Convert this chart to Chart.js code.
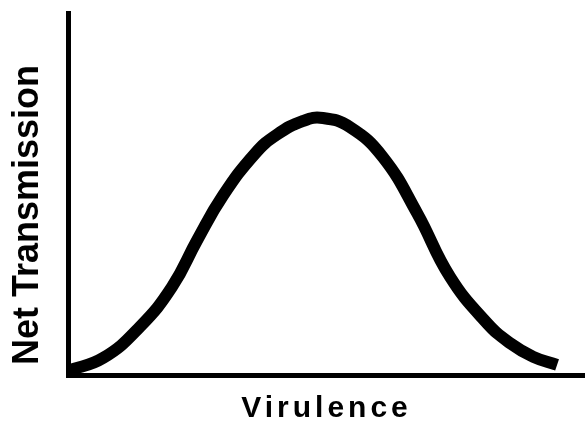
<!DOCTYPE html>
<html>
<head>
<meta charset="utf-8">
<script src="https://cdn.jsdelivr.net/npm/chart.js@4"></script>
<style>
  html, body { margin: 0; padding: 0; background: #ffffff; }
  canvas { display: block; }
</style>
</head>
<body>
<canvas id="chart" width="585" height="433"></canvas>
<script>
// Net transmission as a function of virulence (arbitrary units)
const virulence = [0, 0.68, 1.39, 2.01, 2.50, 3.00, 3.62, 4.04, 4.55, 4.93, 5.45, 6.09, 6.75, 7.39, 8.10, 8.55, 9.00, 9.46];
const netTransmission = [0.12, 0.47, 1.33, 2.43, 3.73, 4.96, 6.12, 6.64, 7.02, 7.10, 6.85, 6.02, 4.48, 2.71, 1.44, 0.88, 0.50, 0.28];

const xTitle = 'Virulence';
const yTitle = ' Net Transmission';

const points = virulence.map((v, i) => ({ x: v, y: netTransmission[i] }));

// Wider letter spacing for the horizontal axis title, which is drawn after the curve
const spacedTitle = {
  id: 'spacedTitle',
  afterDatasetsDraw(chart) { chart.ctx.letterSpacing = '4px'; },
  afterDraw(chart) { chart.ctx.letterSpacing = '0px'; }
};

new Chart(document.getElementById('chart'), {
  type: 'scatter',
  data: {
    datasets: [{
      data: points,
      showLine: true,
      borderColor: '#000000',
      borderWidth: 12,
      tension: 0.45,
      pointRadius: 0,
      borderCapStyle: 'butt',
      clip: false
    }]
  },
  options: {
    responsive: false,
    animation: false,
    devicePixelRatio: 1,
    layout: { padding: { top: 13, right: 0, bottom: 0, left: 0 } },
    plugins: { legend: { display: false }, tooltip: { enabled: false } },
    scales: {
      x: {
        type: 'linear',
        min: 0,
        max: 10,
        grid: { display: false, drawTicks: false, z: 1 },
        border: { display: true, color: '#000000', width: 5, z: 2 },
        ticks: { display: false },
        title: {
          display: true,
          text: xTitle,
          color: '#000000',
          font: { family: '"Liberation Sans", Arial, sans-serif', size: 30, weight: 'bold', lineHeight: 1 },
          padding: { top: 19, bottom: 9 }
        }
      },
      y: {
        type: 'linear',
        min: 0,
        max: 10,
        grid: { display: false, drawTicks: false },
        border: { display: true, color: '#000000', width: 5 },
        ticks: { display: false },
        title: {
          display: true,
          text: yTitle,
          align: 'start',
          color: '#000000',
          font: { family: '"Liberation Sans", Arial, sans-serif', size: 36, weight: 'bold', lineHeight: 1 },
          padding: { top: 10, bottom: 22 }
        }
      }
    }
  },
  plugins: [spacedTitle]
});
</script>
</body>
</html>
